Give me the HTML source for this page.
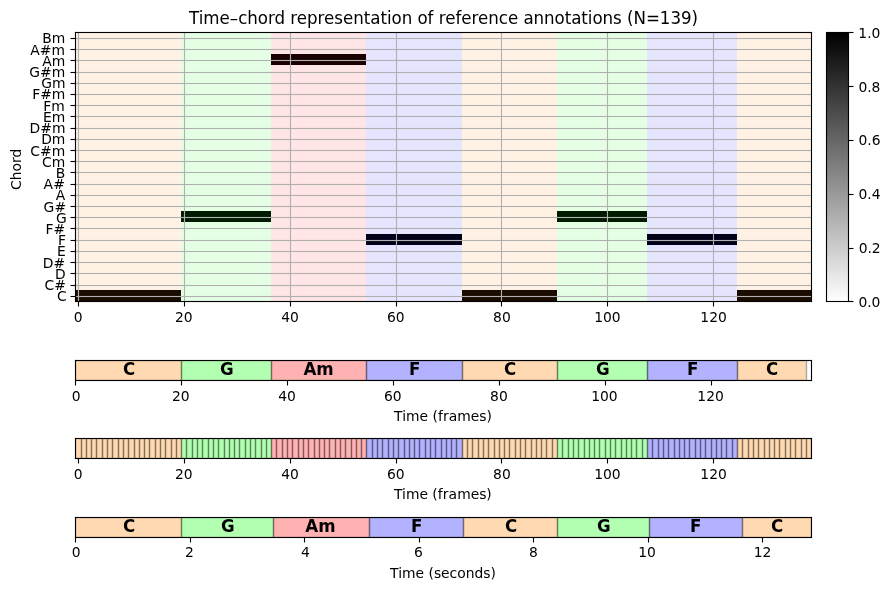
<!DOCTYPE html>
<html lang="en"><head><meta charset="utf-8"><title>Time–chord representation of reference annotations</title>
<style>html,body{margin:0;padding:0;background:#fff;overflow:hidden}svg{display:block;will-change:transform;transform:translateZ(0)}text{font-family:"DejaVu Sans","Liberation Sans",sans-serif;fill:#000}.t10{font-size:13.889px}.t12{font-size:16.667px}.b{font-weight:bold}.m{text-anchor:middle}.e{text-anchor:end}</style></head><body>
<svg width="889" height="590" viewBox="0 0 889 590">
<rect width="889" height="590" fill="#fff"/>
<defs>
<linearGradient id="g" x1="0" y1="0" x2="0" y2="1"><stop offset="0" stop-color="#000"/><stop offset="1" stop-color="#fff"/></linearGradient>
<clipPath id="c1"><rect x="75.500" y="360.500" width="736.000" height="20.000"/></clipPath>
<clipPath id="c2"><rect x="75.500" y="438.500" width="736.000" height="20.000"/></clipPath>
<clipPath id="c3"><rect x="75.500" y="517.500" width="736.000" height="20.000"/></clipPath>
</defs>
<g shape-rendering="crispEdges">
<rect x="75.5" y="290.0" width="105.5" height="11.0" fill="#000"/>
<rect x="181.0" y="211.0" width="90.0" height="11.0" fill="#000"/>
<rect x="271.0" y="54.0" width="95.0" height="11.0" fill="#000"/>
<rect x="366.0" y="234.0" width="96.0" height="11.0" fill="#000"/>
<rect x="462.0" y="290.0" width="95.0" height="11.0" fill="#000"/>
<rect x="557.0" y="211.0" width="90.0" height="11.0" fill="#000"/>
<rect x="647.0" y="234.0" width="90.0" height="11.0" fill="#000"/>
<rect x="737.0" y="290.0" width="74.0" height="11.0" fill="#000"/>
<rect x="75.5" y="32.5" width="105.5" height="269.0" fill="rgba(255,128,0,0.1)"/>
<rect x="181.0" y="32.5" width="90.0" height="269.0" fill="rgba(0,255,0,0.1)"/>
<rect x="271.0" y="32.5" width="95.0" height="269.0" fill="rgba(255,0,0,0.1)"/>
<rect x="366.0" y="32.5" width="96.0" height="269.0" fill="rgba(0,0,255,0.1)"/>
<rect x="462.0" y="32.5" width="95.0" height="269.0" fill="rgba(255,128,0,0.1)"/>
<rect x="557.0" y="32.5" width="90.0" height="269.0" fill="rgba(0,255,0,0.1)"/>
<rect x="647.0" y="32.5" width="90.0" height="269.0" fill="rgba(0,0,255,0.1)"/>
<rect x="737.0" y="32.5" width="74.0" height="269.0" fill="rgba(255,128,0,0.1)"/>
</g>
<g stroke="#b0b0b0" stroke-width="1.111" fill="none">
<line x1="78.5" y1="32.5" x2="78.5" y2="301.5"/>
<line x1="184.5" y1="32.5" x2="184.5" y2="301.5"/>
<line x1="290.5" y1="32.5" x2="290.5" y2="301.5"/>
<line x1="396.5" y1="32.5" x2="396.5" y2="301.5"/>
<line x1="501.5" y1="32.5" x2="501.5" y2="301.5"/>
<line x1="607.5" y1="32.5" x2="607.5" y2="301.5"/>
<line x1="713.5" y1="32.5" x2="713.5" y2="301.5"/>
</g>
<g fill="#b0b0b0" shape-rendering="crispEdges">
<rect x="75.5" y="296.0" width="736.0" height="1"/>
<rect x="75.5" y="295.0" width="736.0" height="3" fill-opacity="0.0555"/>
<rect x="75.5" y="285.0" width="736.0" height="1"/>
<rect x="75.5" y="284.0" width="736.0" height="3" fill-opacity="0.0555"/>
<rect x="75.5" y="273.0" width="736.0" height="1"/>
<rect x="75.5" y="272.0" width="736.0" height="3" fill-opacity="0.0555"/>
<rect x="75.5" y="262.0" width="736.0" height="1"/>
<rect x="75.5" y="261.0" width="736.0" height="3" fill-opacity="0.0555"/>
<rect x="75.5" y="251.0" width="736.0" height="1"/>
<rect x="75.5" y="250.0" width="736.0" height="3" fill-opacity="0.0555"/>
<rect x="75.5" y="240.0" width="736.0" height="1"/>
<rect x="75.5" y="239.0" width="736.0" height="3" fill-opacity="0.0555"/>
<rect x="75.5" y="228.0" width="736.0" height="1"/>
<rect x="75.5" y="227.0" width="736.0" height="3" fill-opacity="0.0555"/>
<rect x="75.5" y="217.0" width="736.0" height="1"/>
<rect x="75.5" y="216.0" width="736.0" height="3" fill-opacity="0.0555"/>
<rect x="75.5" y="206.0" width="736.0" height="1"/>
<rect x="75.5" y="205.0" width="736.0" height="3" fill-opacity="0.0555"/>
<rect x="75.5" y="195.0" width="736.0" height="1"/>
<rect x="75.5" y="194.0" width="736.0" height="3" fill-opacity="0.0555"/>
<rect x="75.5" y="184.0" width="736.0" height="1"/>
<rect x="75.5" y="183.0" width="736.0" height="3" fill-opacity="0.0555"/>
<rect x="75.5" y="172.0" width="736.0" height="1"/>
<rect x="75.5" y="171.0" width="736.0" height="3" fill-opacity="0.0555"/>
<rect x="75.5" y="161.0" width="736.0" height="1"/>
<rect x="75.5" y="160.0" width="736.0" height="3" fill-opacity="0.0555"/>
<rect x="75.5" y="150.0" width="736.0" height="1"/>
<rect x="75.5" y="149.0" width="736.0" height="3" fill-opacity="0.0555"/>
<rect x="75.5" y="139.0" width="736.0" height="1"/>
<rect x="75.5" y="138.0" width="736.0" height="3" fill-opacity="0.0555"/>
<rect x="75.5" y="128.0" width="736.0" height="1"/>
<rect x="75.5" y="127.0" width="736.0" height="3" fill-opacity="0.0555"/>
<rect x="75.5" y="116.0" width="736.0" height="1"/>
<rect x="75.5" y="115.0" width="736.0" height="3" fill-opacity="0.0555"/>
<rect x="75.5" y="105.0" width="736.0" height="1"/>
<rect x="75.5" y="104.0" width="736.0" height="3" fill-opacity="0.0555"/>
<rect x="75.5" y="94.0" width="736.0" height="1"/>
<rect x="75.5" y="93.0" width="736.0" height="3" fill-opacity="0.0555"/>
<rect x="75.5" y="83.0" width="736.0" height="1"/>
<rect x="75.5" y="82.0" width="736.0" height="3" fill-opacity="0.0555"/>
<rect x="75.5" y="72.0" width="736.0" height="1"/>
<rect x="75.5" y="71.0" width="736.0" height="3" fill-opacity="0.0555"/>
<rect x="75.5" y="60.0" width="736.0" height="1"/>
<rect x="75.5" y="59.0" width="736.0" height="3" fill-opacity="0.0555"/>
<rect x="75.5" y="49.0" width="736.0" height="1"/>
<rect x="75.5" y="48.0" width="736.0" height="3" fill-opacity="0.0555"/>
<rect x="75.5" y="38.0" width="736.0" height="1"/>
<rect x="75.5" y="37.0" width="736.0" height="3" fill-opacity="0.0555"/>
</g>
<g stroke="#000" stroke-width="1.111" fill="none">
<line x1="70.5" y1="296.5" x2="75.5" y2="296.5"/>
<line x1="70.5" y1="285.5" x2="75.5" y2="285.5"/>
<line x1="70.5" y1="273.5" x2="75.5" y2="273.5"/>
<line x1="70.5" y1="262.5" x2="75.5" y2="262.5"/>
<line x1="70.5" y1="251.5" x2="75.5" y2="251.5"/>
<line x1="70.5" y1="240.5" x2="75.5" y2="240.5"/>
<line x1="70.5" y1="228.5" x2="75.5" y2="228.5"/>
<line x1="70.5" y1="217.5" x2="75.5" y2="217.5"/>
<line x1="70.5" y1="206.5" x2="75.5" y2="206.5"/>
<line x1="70.5" y1="195.5" x2="75.5" y2="195.5"/>
<line x1="70.5" y1="184.5" x2="75.5" y2="184.5"/>
<line x1="70.5" y1="172.5" x2="75.5" y2="172.5"/>
<line x1="70.5" y1="161.5" x2="75.5" y2="161.5"/>
<line x1="70.5" y1="150.5" x2="75.5" y2="150.5"/>
<line x1="70.5" y1="139.5" x2="75.5" y2="139.5"/>
<line x1="70.5" y1="128.5" x2="75.5" y2="128.5"/>
<line x1="70.5" y1="116.5" x2="75.5" y2="116.5"/>
<line x1="70.5" y1="105.5" x2="75.5" y2="105.5"/>
<line x1="70.5" y1="94.5" x2="75.5" y2="94.5"/>
<line x1="70.5" y1="83.5" x2="75.5" y2="83.5"/>
<line x1="70.5" y1="72.5" x2="75.5" y2="72.5"/>
<line x1="70.5" y1="60.5" x2="75.5" y2="60.5"/>
<line x1="70.5" y1="49.5" x2="75.5" y2="49.5"/>
<line x1="70.5" y1="38.5" x2="75.5" y2="38.5"/>
<line x1="78.5" y1="301.5" x2="78.5" y2="306.5"/>
<line x1="184.5" y1="301.5" x2="184.5" y2="306.5"/>
<line x1="290.5" y1="301.5" x2="290.5" y2="306.5"/>
<line x1="396.5" y1="301.5" x2="396.5" y2="306.5"/>
<line x1="501.5" y1="301.5" x2="501.5" y2="306.5"/>
<line x1="607.5" y1="301.5" x2="607.5" y2="306.5"/>
<line x1="713.5" y1="301.5" x2="713.5" y2="306.5"/>
<rect x="75.5" y="32.5" width="736.0" height="269.0"/>
<g fill="#000" fill-opacity="0.055" stroke="none" shape-rendering="crispEdges"><rect x="74" y="32" width="1" height="1"/><rect x="75" y="31" width="1" height="1"/><rect x="74" y="301" width="1" height="1"/><rect x="75" y="302" width="1" height="1"/><rect x="812" y="32" width="1" height="1"/><rect x="811" y="31" width="1" height="1"/><rect x="812" y="301" width="1" height="1"/><rect x="811" y="302" width="1" height="1"/></g>
</g>
<rect x="826.5" y="32.5" width="22.0" height="269.0" fill="url(#g)"/>
<g stroke="#000" stroke-width="1.111" fill="none">
<rect x="826.5" y="32.5" width="22.0" height="269.0"/>
<line x1="848.5" y1="301.5" x2="853.5" y2="301.5"/>
<line x1="848.5" y1="248.5" x2="853.5" y2="248.5"/>
<line x1="848.5" y1="194.5" x2="853.5" y2="194.5"/>
<line x1="848.5" y1="140.5" x2="853.5" y2="140.5"/>
<line x1="848.5" y1="86.5" x2="853.5" y2="86.5"/>
<line x1="848.5" y1="32.5" x2="853.5" y2="32.5"/>
</g>
<g clip-path="url(#c1)" stroke="#000" stroke-opacity="0.3" stroke-width="1.389">
<rect x="75.5" y="360.5" width="106.0" height="20.0" fill="rgba(255,128,0,0.3)"/>
<rect x="181.5" y="360.5" width="90.0" height="20.0" fill="rgba(0,255,0,0.3)"/>
<rect x="271.5" y="360.5" width="95.0" height="20.0" fill="rgba(255,0,0,0.3)"/>
<rect x="366.5" y="360.5" width="96.0" height="20.0" fill="rgba(0,0,255,0.3)"/>
<rect x="462.5" y="360.5" width="95.0" height="20.0" fill="rgba(255,128,0,0.3)"/>
<rect x="557.5" y="360.5" width="90.0" height="20.0" fill="rgba(0,255,0,0.3)"/>
<rect x="647.5" y="360.5" width="90.0" height="20.0" fill="rgba(0,0,255,0.3)"/>
<rect x="737.5" y="360.5" width="69.0" height="20.0" fill="rgba(255,128,0,0.3)"/>
</g>
<g stroke="#000" stroke-width="1.111" fill="none">
<rect x="75.5" y="360.5" width="736.0" height="20.0"/>
<g fill="#000" fill-opacity="0.055" stroke="none" shape-rendering="crispEdges"><rect x="74" y="360" width="1" height="1"/><rect x="75" y="359" width="1" height="1"/><rect x="74" y="380" width="1" height="1"/><rect x="75" y="381" width="1" height="1"/><rect x="812" y="360" width="1" height="1"/><rect x="811" y="359" width="1" height="1"/><rect x="812" y="380" width="1" height="1"/><rect x="811" y="381" width="1" height="1"/></g>
<line x1="75.5" y1="380.5" x2="75.5" y2="385.5"/>
<line x1="181.5" y1="380.5" x2="181.5" y2="385.5"/>
<line x1="287.5" y1="380.5" x2="287.5" y2="385.5"/>
<line x1="393.5" y1="380.5" x2="393.5" y2="385.5"/>
<line x1="499.5" y1="380.5" x2="499.5" y2="385.5"/>
<line x1="605.5" y1="380.5" x2="605.5" y2="385.5"/>
<line x1="711.5" y1="380.5" x2="711.5" y2="385.5"/>
</g>
<g clip-path="url(#c2)" stroke="#000" stroke-opacity="0.3" stroke-width="1.389">
<rect x="75.5" y="438.5" width="6.0" height="20.0" fill="rgba(255,128,0,0.3)"/>
<rect x="81.5" y="438.5" width="5.0" height="20.0" fill="rgba(255,128,0,0.3)"/>
<rect x="86.5" y="438.5" width="5.0" height="20.0" fill="rgba(255,128,0,0.3)"/>
<rect x="91.5" y="438.5" width="5.0" height="20.0" fill="rgba(255,128,0,0.3)"/>
<rect x="96.5" y="438.5" width="6.0" height="20.0" fill="rgba(255,128,0,0.3)"/>
<rect x="102.5" y="438.5" width="5.0" height="20.0" fill="rgba(255,128,0,0.3)"/>
<rect x="107.5" y="438.5" width="5.0" height="20.0" fill="rgba(255,128,0,0.3)"/>
<rect x="112.5" y="438.5" width="6.0" height="20.0" fill="rgba(255,128,0,0.3)"/>
<rect x="118.5" y="438.5" width="5.0" height="20.0" fill="rgba(255,128,0,0.3)"/>
<rect x="123.5" y="438.5" width="5.0" height="20.0" fill="rgba(255,128,0,0.3)"/>
<rect x="128.5" y="438.5" width="6.0" height="20.0" fill="rgba(255,128,0,0.3)"/>
<rect x="134.5" y="438.5" width="5.0" height="20.0" fill="rgba(255,128,0,0.3)"/>
<rect x="139.5" y="438.5" width="5.0" height="20.0" fill="rgba(255,128,0,0.3)"/>
<rect x="144.5" y="438.5" width="5.0" height="20.0" fill="rgba(255,128,0,0.3)"/>
<rect x="149.5" y="438.5" width="6.0" height="20.0" fill="rgba(255,128,0,0.3)"/>
<rect x="155.5" y="438.5" width="5.0" height="20.0" fill="rgba(255,128,0,0.3)"/>
<rect x="160.5" y="438.5" width="5.0" height="20.0" fill="rgba(255,128,0,0.3)"/>
<rect x="165.5" y="438.5" width="6.0" height="20.0" fill="rgba(255,128,0,0.3)"/>
<rect x="171.5" y="438.5" width="5.0" height="20.0" fill="rgba(255,128,0,0.3)"/>
<rect x="176.5" y="438.5" width="5.0" height="20.0" fill="rgba(255,128,0,0.3)"/>
<rect x="181.5" y="438.5" width="5.0" height="20.0" fill="rgba(0,255,0,0.3)"/>
<rect x="186.5" y="438.5" width="6.0" height="20.0" fill="rgba(0,255,0,0.3)"/>
<rect x="192.5" y="438.5" width="5.0" height="20.0" fill="rgba(0,255,0,0.3)"/>
<rect x="197.5" y="438.5" width="5.0" height="20.0" fill="rgba(0,255,0,0.3)"/>
<rect x="202.5" y="438.5" width="6.0" height="20.0" fill="rgba(0,255,0,0.3)"/>
<rect x="208.5" y="438.5" width="5.0" height="20.0" fill="rgba(0,255,0,0.3)"/>
<rect x="213.5" y="438.5" width="5.0" height="20.0" fill="rgba(0,255,0,0.3)"/>
<rect x="218.5" y="438.5" width="6.0" height="20.0" fill="rgba(0,255,0,0.3)"/>
<rect x="224.5" y="438.5" width="5.0" height="20.0" fill="rgba(0,255,0,0.3)"/>
<rect x="229.5" y="438.5" width="5.0" height="20.0" fill="rgba(0,255,0,0.3)"/>
<rect x="234.5" y="438.5" width="5.0" height="20.0" fill="rgba(0,255,0,0.3)"/>
<rect x="239.5" y="438.5" width="6.0" height="20.0" fill="rgba(0,255,0,0.3)"/>
<rect x="245.5" y="438.5" width="5.0" height="20.0" fill="rgba(0,255,0,0.3)"/>
<rect x="250.5" y="438.5" width="5.0" height="20.0" fill="rgba(0,255,0,0.3)"/>
<rect x="255.5" y="438.5" width="6.0" height="20.0" fill="rgba(0,255,0,0.3)"/>
<rect x="261.5" y="438.5" width="5.0" height="20.0" fill="rgba(0,255,0,0.3)"/>
<rect x="266.5" y="438.5" width="5.0" height="20.0" fill="rgba(0,255,0,0.3)"/>
<rect x="271.5" y="438.5" width="5.0" height="20.0" fill="rgba(255,0,0,0.3)"/>
<rect x="276.5" y="438.5" width="6.0" height="20.0" fill="rgba(255,0,0,0.3)"/>
<rect x="282.5" y="438.5" width="5.0" height="20.0" fill="rgba(255,0,0,0.3)"/>
<rect x="287.5" y="438.5" width="5.0" height="20.0" fill="rgba(255,0,0,0.3)"/>
<rect x="292.5" y="438.5" width="6.0" height="20.0" fill="rgba(255,0,0,0.3)"/>
<rect x="298.5" y="438.5" width="5.0" height="20.0" fill="rgba(255,0,0,0.3)"/>
<rect x="303.5" y="438.5" width="5.0" height="20.0" fill="rgba(255,0,0,0.3)"/>
<rect x="308.5" y="438.5" width="6.0" height="20.0" fill="rgba(255,0,0,0.3)"/>
<rect x="314.5" y="438.5" width="5.0" height="20.0" fill="rgba(255,0,0,0.3)"/>
<rect x="319.5" y="438.5" width="5.0" height="20.0" fill="rgba(255,0,0,0.3)"/>
<rect x="324.5" y="438.5" width="5.0" height="20.0" fill="rgba(255,0,0,0.3)"/>
<rect x="329.5" y="438.5" width="6.0" height="20.0" fill="rgba(255,0,0,0.3)"/>
<rect x="335.5" y="438.5" width="5.0" height="20.0" fill="rgba(255,0,0,0.3)"/>
<rect x="340.5" y="438.5" width="5.0" height="20.0" fill="rgba(255,0,0,0.3)"/>
<rect x="345.5" y="438.5" width="6.0" height="20.0" fill="rgba(255,0,0,0.3)"/>
<rect x="351.5" y="438.5" width="5.0" height="20.0" fill="rgba(255,0,0,0.3)"/>
<rect x="356.5" y="438.5" width="5.0" height="20.0" fill="rgba(255,0,0,0.3)"/>
<rect x="361.5" y="438.5" width="5.0" height="20.0" fill="rgba(255,0,0,0.3)"/>
<rect x="366.5" y="438.5" width="6.0" height="20.0" fill="rgba(0,0,255,0.3)"/>
<rect x="372.5" y="438.5" width="5.0" height="20.0" fill="rgba(0,0,255,0.3)"/>
<rect x="377.5" y="438.5" width="5.0" height="20.0" fill="rgba(0,0,255,0.3)"/>
<rect x="382.5" y="438.5" width="6.0" height="20.0" fill="rgba(0,0,255,0.3)"/>
<rect x="388.5" y="438.5" width="5.0" height="20.0" fill="rgba(0,0,255,0.3)"/>
<rect x="393.5" y="438.5" width="5.0" height="20.0" fill="rgba(0,0,255,0.3)"/>
<rect x="398.5" y="438.5" width="6.0" height="20.0" fill="rgba(0,0,255,0.3)"/>
<rect x="404.5" y="438.5" width="5.0" height="20.0" fill="rgba(0,0,255,0.3)"/>
<rect x="409.5" y="438.5" width="5.0" height="20.0" fill="rgba(0,0,255,0.3)"/>
<rect x="414.5" y="438.5" width="5.0" height="20.0" fill="rgba(0,0,255,0.3)"/>
<rect x="419.5" y="438.5" width="6.0" height="20.0" fill="rgba(0,0,255,0.3)"/>
<rect x="425.5" y="438.5" width="5.0" height="20.0" fill="rgba(0,0,255,0.3)"/>
<rect x="430.5" y="438.5" width="5.0" height="20.0" fill="rgba(0,0,255,0.3)"/>
<rect x="435.5" y="438.5" width="6.0" height="20.0" fill="rgba(0,0,255,0.3)"/>
<rect x="441.5" y="438.5" width="5.0" height="20.0" fill="rgba(0,0,255,0.3)"/>
<rect x="446.5" y="438.5" width="5.0" height="20.0" fill="rgba(0,0,255,0.3)"/>
<rect x="451.5" y="438.5" width="5.0" height="20.0" fill="rgba(0,0,255,0.3)"/>
<rect x="456.5" y="438.5" width="6.0" height="20.0" fill="rgba(0,0,255,0.3)"/>
<rect x="462.5" y="438.5" width="5.0" height="20.0" fill="rgba(255,128,0,0.3)"/>
<rect x="467.5" y="438.5" width="5.0" height="20.0" fill="rgba(255,128,0,0.3)"/>
<rect x="472.5" y="438.5" width="6.0" height="20.0" fill="rgba(255,128,0,0.3)"/>
<rect x="478.5" y="438.5" width="5.0" height="20.0" fill="rgba(255,128,0,0.3)"/>
<rect x="483.5" y="438.5" width="5.0" height="20.0" fill="rgba(255,128,0,0.3)"/>
<rect x="488.5" y="438.5" width="6.0" height="20.0" fill="rgba(255,128,0,0.3)"/>
<rect x="494.5" y="438.5" width="5.0" height="20.0" fill="rgba(255,128,0,0.3)"/>
<rect x="499.5" y="438.5" width="5.0" height="20.0" fill="rgba(255,128,0,0.3)"/>
<rect x="504.5" y="438.5" width="5.0" height="20.0" fill="rgba(255,128,0,0.3)"/>
<rect x="509.5" y="438.5" width="6.0" height="20.0" fill="rgba(255,128,0,0.3)"/>
<rect x="515.5" y="438.5" width="5.0" height="20.0" fill="rgba(255,128,0,0.3)"/>
<rect x="520.5" y="438.5" width="5.0" height="20.0" fill="rgba(255,128,0,0.3)"/>
<rect x="525.5" y="438.5" width="6.0" height="20.0" fill="rgba(255,128,0,0.3)"/>
<rect x="531.5" y="438.5" width="5.0" height="20.0" fill="rgba(255,128,0,0.3)"/>
<rect x="536.5" y="438.5" width="5.0" height="20.0" fill="rgba(255,128,0,0.3)"/>
<rect x="541.5" y="438.5" width="5.0" height="20.0" fill="rgba(255,128,0,0.3)"/>
<rect x="546.5" y="438.5" width="6.0" height="20.0" fill="rgba(255,128,0,0.3)"/>
<rect x="552.5" y="438.5" width="5.0" height="20.0" fill="rgba(255,128,0,0.3)"/>
<rect x="557.5" y="438.5" width="5.0" height="20.0" fill="rgba(0,255,0,0.3)"/>
<rect x="562.5" y="438.5" width="6.0" height="20.0" fill="rgba(0,255,0,0.3)"/>
<rect x="568.5" y="438.5" width="5.0" height="20.0" fill="rgba(0,255,0,0.3)"/>
<rect x="573.5" y="438.5" width="5.0" height="20.0" fill="rgba(0,255,0,0.3)"/>
<rect x="578.5" y="438.5" width="6.0" height="20.0" fill="rgba(0,255,0,0.3)"/>
<rect x="584.5" y="438.5" width="5.0" height="20.0" fill="rgba(0,255,0,0.3)"/>
<rect x="589.5" y="438.5" width="5.0" height="20.0" fill="rgba(0,255,0,0.3)"/>
<rect x="594.5" y="438.5" width="5.0" height="20.0" fill="rgba(0,255,0,0.3)"/>
<rect x="599.5" y="438.5" width="6.0" height="20.0" fill="rgba(0,255,0,0.3)"/>
<rect x="605.5" y="438.5" width="5.0" height="20.0" fill="rgba(0,255,0,0.3)"/>
<rect x="610.5" y="438.5" width="5.0" height="20.0" fill="rgba(0,255,0,0.3)"/>
<rect x="615.5" y="438.5" width="6.0" height="20.0" fill="rgba(0,255,0,0.3)"/>
<rect x="621.5" y="438.5" width="5.0" height="20.0" fill="rgba(0,255,0,0.3)"/>
<rect x="626.5" y="438.5" width="5.0" height="20.0" fill="rgba(0,255,0,0.3)"/>
<rect x="631.5" y="438.5" width="5.0" height="20.0" fill="rgba(0,255,0,0.3)"/>
<rect x="636.5" y="438.5" width="6.0" height="20.0" fill="rgba(0,255,0,0.3)"/>
<rect x="642.5" y="438.5" width="5.0" height="20.0" fill="rgba(0,255,0,0.3)"/>
<rect x="647.5" y="438.5" width="5.0" height="20.0" fill="rgba(0,0,255,0.3)"/>
<rect x="652.5" y="438.5" width="6.0" height="20.0" fill="rgba(0,0,255,0.3)"/>
<rect x="658.5" y="438.5" width="5.0" height="20.0" fill="rgba(0,0,255,0.3)"/>
<rect x="663.5" y="438.5" width="5.0" height="20.0" fill="rgba(0,0,255,0.3)"/>
<rect x="668.5" y="438.5" width="6.0" height="20.0" fill="rgba(0,0,255,0.3)"/>
<rect x="674.5" y="438.5" width="5.0" height="20.0" fill="rgba(0,0,255,0.3)"/>
<rect x="679.5" y="438.5" width="5.0" height="20.0" fill="rgba(0,0,255,0.3)"/>
<rect x="684.5" y="438.5" width="5.0" height="20.0" fill="rgba(0,0,255,0.3)"/>
<rect x="689.5" y="438.5" width="6.0" height="20.0" fill="rgba(0,0,255,0.3)"/>
<rect x="695.5" y="438.5" width="5.0" height="20.0" fill="rgba(0,0,255,0.3)"/>
<rect x="700.5" y="438.5" width="5.0" height="20.0" fill="rgba(0,0,255,0.3)"/>
<rect x="705.5" y="438.5" width="6.0" height="20.0" fill="rgba(0,0,255,0.3)"/>
<rect x="711.5" y="438.5" width="5.0" height="20.0" fill="rgba(0,0,255,0.3)"/>
<rect x="716.5" y="438.5" width="5.0" height="20.0" fill="rgba(0,0,255,0.3)"/>
<rect x="721.5" y="438.5" width="5.0" height="20.0" fill="rgba(0,0,255,0.3)"/>
<rect x="726.5" y="438.5" width="6.0" height="20.0" fill="rgba(0,0,255,0.3)"/>
<rect x="732.5" y="438.5" width="5.0" height="20.0" fill="rgba(0,0,255,0.3)"/>
<rect x="737.5" y="438.5" width="5.0" height="20.0" fill="rgba(255,128,0,0.3)"/>
<rect x="742.5" y="438.5" width="6.0" height="20.0" fill="rgba(255,128,0,0.3)"/>
<rect x="748.5" y="438.5" width="5.0" height="20.0" fill="rgba(255,128,0,0.3)"/>
<rect x="753.5" y="438.5" width="5.0" height="20.0" fill="rgba(255,128,0,0.3)"/>
<rect x="758.5" y="438.5" width="6.0" height="20.0" fill="rgba(255,128,0,0.3)"/>
<rect x="764.5" y="438.5" width="5.0" height="20.0" fill="rgba(255,128,0,0.3)"/>
<rect x="769.5" y="438.5" width="5.0" height="20.0" fill="rgba(255,128,0,0.3)"/>
<rect x="774.5" y="438.5" width="5.0" height="20.0" fill="rgba(255,128,0,0.3)"/>
<rect x="779.5" y="438.5" width="6.0" height="20.0" fill="rgba(255,128,0,0.3)"/>
<rect x="785.5" y="438.5" width="5.0" height="20.0" fill="rgba(255,128,0,0.3)"/>
<rect x="790.5" y="438.5" width="5.0" height="20.0" fill="rgba(255,128,0,0.3)"/>
<rect x="795.5" y="438.5" width="6.0" height="20.0" fill="rgba(255,128,0,0.3)"/>
<rect x="801.5" y="438.5" width="5.0" height="20.0" fill="rgba(255,128,0,0.3)"/>
<rect x="806.5" y="438.5" width="5.0" height="20.0" fill="rgba(255,128,0,0.3)"/>
</g>
<g stroke="#000" stroke-width="1.111" fill="none">
<rect x="75.5" y="438.5" width="736.0" height="20.0"/>
<g fill="#000" fill-opacity="0.055" stroke="none" shape-rendering="crispEdges"><rect x="74" y="438" width="1" height="1"/><rect x="75" y="437" width="1" height="1"/><rect x="74" y="458" width="1" height="1"/><rect x="75" y="459" width="1" height="1"/><rect x="812" y="438" width="1" height="1"/><rect x="811" y="437" width="1" height="1"/><rect x="812" y="458" width="1" height="1"/><rect x="811" y="459" width="1" height="1"/></g>
<line x1="78.5" y1="458.5" x2="78.5" y2="463.5"/>
<line x1="184.5" y1="458.5" x2="184.5" y2="463.5"/>
<line x1="290.5" y1="458.5" x2="290.5" y2="463.5"/>
<line x1="396.5" y1="458.5" x2="396.5" y2="463.5"/>
<line x1="501.5" y1="458.5" x2="501.5" y2="463.5"/>
<line x1="607.5" y1="458.5" x2="607.5" y2="463.5"/>
<line x1="713.5" y1="458.5" x2="713.5" y2="463.5"/>
</g>
<g clip-path="url(#c3)" stroke="#000" stroke-opacity="0.3" stroke-width="1.389">
<rect x="75.5" y="517.5" width="106.0" height="20.0" fill="rgba(255,128,0,0.3)"/>
<rect x="181.5" y="517.5" width="92.0" height="20.0" fill="rgba(0,255,0,0.3)"/>
<rect x="273.5" y="517.5" width="96.0" height="20.0" fill="rgba(255,0,0,0.3)"/>
<rect x="369.5" y="517.5" width="94.0" height="20.0" fill="rgba(0,0,255,0.3)"/>
<rect x="463.5" y="517.5" width="94.0" height="20.0" fill="rgba(255,128,0,0.3)"/>
<rect x="557.5" y="517.5" width="92.0" height="20.0" fill="rgba(0,255,0,0.3)"/>
<rect x="649.5" y="517.5" width="93.0" height="20.0" fill="rgba(0,0,255,0.3)"/>
<rect x="742.5" y="517.5" width="69.0" height="20.0" fill="rgba(255,128,0,0.3)"/>
</g>
<g stroke="#000" stroke-width="1.111" fill="none">
<rect x="75.5" y="517.5" width="736.0" height="20.0"/>
<g fill="#000" fill-opacity="0.055" stroke="none" shape-rendering="crispEdges"><rect x="74" y="517" width="1" height="1"/><rect x="75" y="516" width="1" height="1"/><rect x="74" y="537" width="1" height="1"/><rect x="75" y="538" width="1" height="1"/><rect x="812" y="517" width="1" height="1"/><rect x="811" y="516" width="1" height="1"/><rect x="812" y="537" width="1" height="1"/><rect x="811" y="538" width="1" height="1"/></g>
<line x1="75.5" y1="537.5" x2="75.5" y2="542.5"/>
<line x1="190.5" y1="537.5" x2="190.5" y2="542.5"/>
<line x1="304.5" y1="537.5" x2="304.5" y2="542.5"/>
<line x1="419.5" y1="537.5" x2="419.5" y2="542.5"/>
<line x1="533.5" y1="537.5" x2="533.5" y2="542.5"/>
<line x1="648.5" y1="537.5" x2="648.5" y2="542.5"/>
<line x1="762.5" y1="537.5" x2="762.5" y2="542.5"/>
</g>
<g class="t10">
<text x="73.86" y="322">0</text>
<text x="175.07" y="322" textLength="17.50">20</text>
<text x="281.25" y="322" textLength="17.50">40</text>
<text x="387.06" y="322" textLength="17.62">60</text>
<text x="493.12" y="322" textLength="17.62">80</text>
<text x="594.23" y="322" textLength="26.38">100</text>
<text x="700.37" y="322" textLength="26.38">120</text>
<text transform="translate(20.74,190) rotate(-90)" x="0 9.75 18.5 27 32.5">Chord</text>
<text x="56.89" y="301">C</text>
<text x="44.45" y="290" textLength="21.50">C#</text>
<text x="54.88" y="279">D</text>
<text x="42.69" y="268" textLength="22.50">D#</text>
<text x="56.88" y="256">E</text>
<text x="57.91" y="245">F</text>
<text x="45.43" y="234" textLength="19.75">F#</text>
<text x="55.89" y="223">G</text>
<text x="43.53" y="212" textLength="22.50">G#</text>
<text x="55.82" y="200">A</text>
<text x="43.59" y="189" textLength="21.25">A#</text>
<text x="55.84" y="178">B</text>
<text x="42.09" y="167" textLength="23.25">Cm</text>
<text x="30.35" y="156" textLength="35.00">C#m</text>
<text x="41.13" y="144" textLength="24.25">Dm</text>
<text x="29.44" y="133" textLength="36.00">D#m</text>
<text x="42.98" y="122" textLength="22.25">Em</text>
<text x="43.34" y="111" textLength="21.50">Fm</text>
<text x="32.15" y="99" textLength="33.25">F#m</text>
<text x="41.18" y="88" textLength="24.25">Gm</text>
<text x="29.3" y="77" textLength="36.00">G#m</text>
<text x="42.2" y="66" textLength="23.00">Am</text>
<text x="30.3" y="55" textLength="34.75">A#m</text>
<text x="42.26" y="43" textLength="23.12">Bm</text>
<text x="858.4" y="307" textLength="21.88">0.0</text>
<text x="858.68" y="253" textLength="21.88">0.2</text>
<text x="858.6" y="199" textLength="21.88">0.4</text>
<text x="858.5" y="145" textLength="22.00">0.6</text>
<text x="858.44" y="92" textLength="22.00">0.8</text>
<text x="858.35" y="38" textLength="22.00">1.0</text>
<text x="394.02 402.14 406.02 419.52 428.02 432.39 437.89 442.89 448.64 457.27 470.77 479.27 486.39" y="421">Time (frames)</text>
<text x="71.86" y="401">0</text>
<text x="172.07" y="401" textLength="17.50">20</text>
<text x="278.25" y="401" textLength="17.50">40</text>
<text x="384.06" y="401" textLength="17.62">60</text>
<text x="490.12" y="401" textLength="17.63">80</text>
<text x="591.23" y="401" textLength="26.38">100</text>
<text x="697.37" y="401" textLength="26.38">120</text>
<text x="393.97 402.1 405.97 419.47 427.97 432.35 437.85 442.85 448.6 457.22 470.72 479.22 486.35" y="499">Time (frames)</text>
<text x="73.86" y="479">0</text>
<text x="175.07" y="479" textLength="17.50">20</text>
<text x="281.25" y="479" textLength="17.50">40</text>
<text x="387.06" y="479" textLength="17.62">60</text>
<text x="493.12" y="479" textLength="17.62">80</text>
<text x="594.23" y="479" textLength="26.38">100</text>
<text x="700.37" y="479" textLength="26.38">120</text>
<text x="390.03 398.15 402.03 415.53 424.03 428.4 433.9 441.03 449.53 457.15 465.65 474.4 483.28 490.4" y="578">Time (seconds)</text>
<text x="71.86" y="557">0</text>
<text x="184.98" y="557">2</text>
<text x="301" y="557">4</text>
<text x="414" y="557">6</text>
<text x="529.12" y="557">8</text>
<text x="638.33" y="557" textLength="17.62">10</text>
<text x="753.66" y="557" textLength="17.62">12</text>
</g>
<g class="t12">
<text x="188.94 198.69 203.31 219.56 229.81 238.19 247.31 257.81 267.94 274.56 285.06 290.31 296.81 307.06 317.56 324.06 334.31 343.06 353.31 363.81 370.31 380.44 386.94 391.56 401.69 412.19 417.44 427.56 433.44 438.69 445.19 455.44 461.31 471.56 478.06 488.31 498.81 507.94 518.19 523.44 533.57 544.07 554.57 564.69 571.19 581.32 587.82 592.44 602.57 613.07 621.82 627.07 633.44 645.94 659.82 670.44 681.07 691.57" transform="translate(0,24) scale(1,1.07)">Time–chord representation of reference annotations (N=139)</text>
</g>
<g class="t12 b">
<text x="122.96" transform="translate(0,375) scale(1,1.07)">C</text>
<text x="220" transform="translate(0,375) scale(1,1.07)">G</text>
<text x="303.41" transform="translate(0,375) scale(1,1.07)" textLength="30.25">Am</text>
<text x="408.92" transform="translate(0,375) scale(1,1.07)">F</text>
<text x="503.96" transform="translate(0,375) scale(1,1.07)">C</text>
<text x="596" transform="translate(0,375) scale(1,1.07)">G</text>
<text x="686.92" transform="translate(0,375) scale(1,1.07)">F</text>
<text x="765.96" transform="translate(0,375) scale(1,1.07)">C</text>
<text x="122.96" transform="translate(0,532) scale(1,1.07)">C</text>
<text x="221" transform="translate(0,532) scale(1,1.07)">G</text>
<text x="305.36" transform="translate(0,532) scale(1,1.07)" textLength="30.25">Am</text>
<text x="410.92" transform="translate(0,532) scale(1,1.07)">F</text>
<text x="504.96" transform="translate(0,532) scale(1,1.07)">C</text>
<text x="597" transform="translate(0,532) scale(1,1.07)">G</text>
<text x="689.92" transform="translate(0,532) scale(1,1.07)">F</text>
<text x="770.96" transform="translate(0,532) scale(1,1.07)">C</text>
</g>
</svg></body></html>
